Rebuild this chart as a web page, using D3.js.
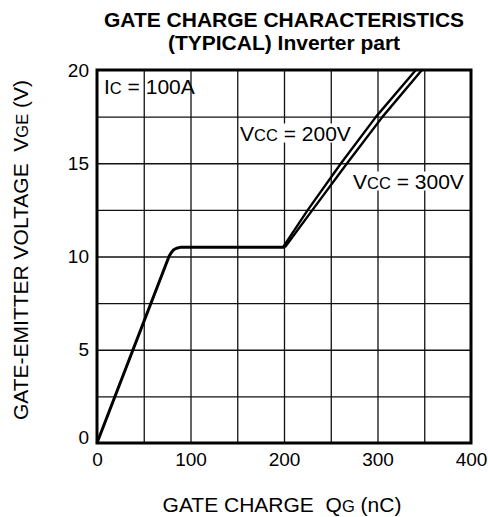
<!DOCTYPE html>
<html>
<head>
<meta charset="utf-8">
<script src="https://cdn.jsdelivr.net/npm/d3@7"></script>
<style>
  body { margin: 0; background: #fff; }
  svg text { font-family: "Liberation Sans", Arial, Helvetica, sans-serif; fill: #000; white-space: pre; }
</style>
</head>
<body>
<div id="chart"></div>
<script>
// values
var xTicks = [0, 100, 200, 300, 400],
  yTicks = [0, 5, 10, 15, 20];

// common part: linear rise, knee, Miller plateau
var sharedQ = [0, 77, 79.5, 82, 85, 89, 94, 200],
  sharedV = [0, 10, 10.22, 10.36, 10.44, 10.49, 10.5, 10.5];

// Vcc = 200V branch
var q200 = [199, 225.5, 261, 298.5, 341],
  v200 = [10.5, 12.5, 15, 17.5, 20];

// Vcc = 300V branch
var q300 = [201, 230.5, 267.5, 305.5, 347.5],
  v300 = [10.5, 12.5, 15, 17.5, 20];

var width = 488,
  height = 517,
  margin = {top: 70, right: 17, bottom: 74, left: 97},
  w = width - margin.left - margin.right,
  h = height - margin.top - margin.bottom;

var svg = d3.select("#chart").append("svg")
  .attr("width", width)
  .attr("height", height);

var g = svg.append("g")
  .attr("transform", "translate(" + margin.left + "," + margin.top + ")");

var x = d3.scaleLinear().domain([0, 400]).range([0, w]);
var y = d3.scaleLinear().domain([0, 20]).range([h, 0]);

//grid
g.append("g")
  .attr("transform", "translate(0," + h + ")")
  .call(d3.axisBottom(x).tickValues(d3.range(50, 400, 50)).tickSize(-h).tickFormat(""))
  .call(function(s) { s.select(".domain").remove(); })
  .selectAll("line").attr("stroke", "#111").attr("stroke-width", 1.3);

g.append("g")
  .call(d3.axisLeft(y).tickValues(d3.range(2.5, 20, 2.5)).tickSize(-w).tickFormat(""))
  .call(function(s) { s.select(".domain").remove(); })
  .selectAll("line").attr("stroke", "#111").attr("stroke-width", 1.3);

//tick labels
var xAxis = g.append("g")
  .attr("transform", "translate(0," + h + ")")
  .call(d3.axisBottom(x).tickValues(xTicks).tickSize(0).tickPadding(9.5));
xAxis.select(".domain").remove();
xAxis.selectAll("text").style("font-size", "19px");

var yAxis = g.append("g")
  .call(d3.axisLeft(y).tickValues(yTicks).tickSize(0).tickPadding(8));
yAxis.select(".domain").remove();
yAxis.selectAll("text").style("font-size", "19px")
  .attr("dy", function(d) { return d === 0 ? "0" : "0.32em"; });

//labels inside plot
function addLabel(parent, px, py, main, sub, rest, bg) {
  var t = parent.append("text")
    .attr("x", px)
    .attr("y", py)
    .style("font-size", "21px");
  t.append("tspan").text(main);
  t.append("tspan").style("font-size", "16.5px").text(sub);
  t.append("tspan").text(rest);
  if (bg) {
    var b = t.node().getBBox();
    parent.insert("rect", function() { return t.node(); })
      .attr("x", b.x - 1)
      .attr("y", b.y + 2)
      .attr("width", b.width + 2)
      .attr("height", b.height - 4)
      .attr("fill", "#fff");
  }
  return t;
}

var line = d3.line()
  .x(function(d) { return x(d[0]); })
  .y(function(d) { return y(d[1]); });

var labels = g.append("g");
addLabel(labels, 104 - margin.left, 94 - margin.top, "I", "C", " = 100A", false);
addLabel(labels, 240 - margin.left, 140.5 - margin.top, "V", "CC", " = 200V", true);
addLabel(labels, 353 - margin.left, 188.5 - margin.top, "V", "CC", " = 300V", true);

//curves
g.append("path")
  .datum(d3.zip(sharedQ, sharedV))
  .attr("d", line)
  .attr("fill", "none")
  .attr("stroke", "#000")
  .attr("stroke-width", 3)
  .attr("stroke-linejoin", "round");

[[q200, v200], [q300, v300]].forEach(function(c) {
  g.append("path")
    .datum(d3.zip(c[0], c[1]))
    .attr("d", line)
    .attr("fill", "none")
    .attr("stroke", "#000")
    .attr("stroke-width", 2.4)
    .attr("stroke-linejoin", "round");
});

//frame
g.append("rect")
  .attr("width", w)
  .attr("height", h)
  .attr("fill", "none")
  .attr("stroke", "#000")
  .attr("stroke-width", 3);

//titles
svg.append("text")
  .attr("x", 284)
  .attr("y", 27)
  .attr("text-anchor", "middle")
  .style("font-size", "21px")
  .style("font-weight", "bold")
  .text("GATE CHARGE CHARACTERISTICS");

svg.append("text")
  .attr("x", 284)
  .attr("y", 50)
  .attr("text-anchor", "middle")
  .style("font-size", "21px")
  .style("font-weight", "bold")
  .text("(TYPICAL) Inverter part");

//axis titles
var xt = svg.append("text")
  .attr("x", 282)
  .attr("y", 512)
  .attr("text-anchor", "middle")
  .style("font-size", "21px");
xt.append("tspan").text("GATE CHARGE  Q");
xt.append("tspan").style("font-size", "16.5px").text("G");
xt.append("tspan").text(" (nC)");

var yt = svg.append("text")
  .attr("transform", "translate(28,250) rotate(-90)")
  .attr("text-anchor", "middle")
  .style("font-size", "21px");
yt.append("tspan").text("GATE-EMITTER VOLTAGE  V");
yt.append("tspan").style("font-size", "16.5px").text("GE");
yt.append("tspan").text(" (V)");
</script>
</body>
</html>
